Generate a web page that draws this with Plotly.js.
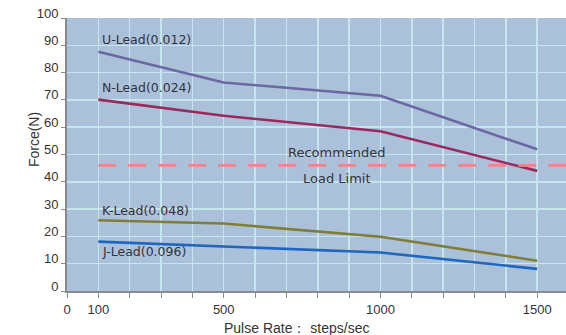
<!DOCTYPE html>
<html>
<head>
<meta charset="utf-8">
<script src="https://cdn.plot.ly/plotly-3.0.1.min.js"></script>
<style>html,body{margin:0;padding:0;background:#fff;}#chart{width:566px;height:335px;}</style>
</head>
<body>
<div id="chart"></div>
<script>
// ---- data ----
const pulseRate = [100, 500, 1000, 1500];
const uLead = [87.6, 76.4, 71.5, 51.9];
const nLead = [70.1, 64.2, 58.5, 44.0];
const kLead = [25.9, 24.7, 19.9, 11.1];
const jLead = [18.1, 16.2, 14.1, 8.1];
const seriesNames = ["U-Lead(0.012)", "N-Lead(0.024)", "K-Lead(0.048)", "J-Lead(0.096)"];
const limitX = [100, 1650];
const limitY = [46, 46];
const limitLabel = ["Recommended", "Load Limit"];
const xTickVals = [0,100,200,300,400,500,600,700,800,900,1000,1100,1200,1300,1400,1500];
const xTickText = ["0","100","","","","500","","","","","1000","","","","","1500"];
const yTickVals = [0,10,20,30,40,50,60,70,80,90,100];
const xTitle = "Pulse Rate： steps/sec";
const yTitle = "Force(N)";

const colors = ["#6b68a2", "#9a2a5e", "#7f7d38", "#1f66be"];
const ys = [uLead, nLead, kLead, jLead];

const traces = ys.map((y, i) => ({
  x: pulseRate, y: y, type: "scatter", mode: "lines", name: seriesNames[i],
  line: {color: colors[i], width: 2.6}, hoverinfo: "skip"
}));
traces.push({
  x: limitX, y: limitY, type: "scatter", mode: "lines",
  line: {color: "#f08585", width: 2.6, dash: "18px,12px"}, hoverinfo: "skip"
});

const labelFont = {family: "DejaVu Sans, sans-serif", size: 12.5, color: "#333340"};
const labelShift = [12, 12, 10, -10];
const annotations = [];
ys.forEach((y, i) => {
  annotations.push({
    x: pulseRate[0], y: y[0], xref: "x", yref: "y", text: seriesNames[i],
    showarrow: false, xanchor: "left", yanchor: "middle", xshift: 2,
    yshift: labelShift[i], font: labelFont
  });
});
annotations.push({
  x: 860, y: limitY[0], xref: "x", yref: "y", text: limitLabel[0], showarrow: false,
  xanchor: "center", yanchor: "middle", yshift: 13,
  font: {family: "DejaVu Sans, sans-serif", size: 13, color: "#333340"}
});
annotations.push({
  x: 860, y: limitY[0], xref: "x", yref: "y", text: limitLabel[1], showarrow: false,
  xanchor: "center", yanchor: "middle", yshift: -13,
  font: {family: "DejaVu Sans, sans-serif", size: 13, color: "#333340"}
});
annotations.push({
  x: 0.461, y: -0.135, xref: "paper", yref: "paper", text: xTitle, showarrow: false,
  xanchor: "center", yanchor: "middle",
  font: {family: "Liberation Sans, Arial, sans-serif", size: 14, color: "#333"}
});
annotations.push({
  x: -0.066, y: 0.553, xref: "paper", yref: "paper", text: yTitle, showarrow: false,
  textangle: -90, xanchor: "center", yanchor: "middle",
  font: {family: "Liberation Sans, Arial, sans-serif", size: 14, color: "#333"}
});

const layout = {
  width: 566, height: 335,
  margin: {l: 67, r: 0, t: 18, b: 44, pad: 0},
  paper_bgcolor: "#ffffff", plot_bgcolor: "#abc1d9",
  showlegend: false,
  font: {family: "Liberation Sans, Arial, sans-serif", size: 13, color: "#333"},
  xaxis: {
    range: [0, 1592], tickmode: "array", tickvals: xTickVals, ticktext: xTickText,
    showgrid: true, gridcolor: "#c6e6ef", gridwidth: 1.5,
    showline: true, linecolor: "#8a8a8a", linewidth: 2,
    ticks: "outside", ticklen: 5, tickcolor: "#8a8a8a", tickwidth: 1,
    zeroline: false, fixedrange: true
  },
  yaxis: {
    range: [0, 100], tickmode: "array", tickvals: yTickVals,
    showgrid: true, gridcolor: "#c6e6ef", gridwidth: 1.5,
    showline: true, linecolor: "#8a8a8a", linewidth: 2,
    ticks: "outside", ticklen: 4, tickcolor: "#8a8a8a", tickwidth: 1,
    ticklabelshift: -5,
    zeroline: false, fixedrange: true
  },
  annotations: annotations
};

Plotly.newPlot("chart", traces, layout, {staticPlot: true, displayModeBar: false});
</script>
</body>
</html>
